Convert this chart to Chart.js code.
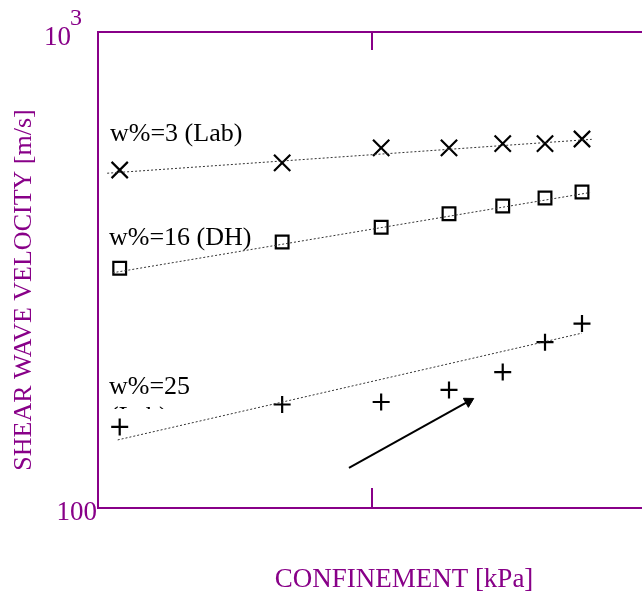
<!DOCTYPE html>
<html>
<head>
<meta charset="utf-8">
<script src="https://cdn.jsdelivr.net/npm/chart.js@4"></script>
<style>
  html, body { margin: 0; padding: 0; background: #fff; overflow: hidden; }
  #vsChart { display: block; }
</style>
</head>
<body>
<canvas id="vsChart" width="642" height="594"></canvas>
<script>
// ── Data ───────────────────────────────────────────
const confinement = [12, 47, 108, 191, 300, 428, 584];      // kPa
const vsLab3  = [513, 531, 571, 571, 583, 583, 596];        // w%=3 (Lab)
const vsDH16  = [319, 362, 389, 415, 431, 448, 461];        // w%=16 (DH)
const vsLab25 = [148, 165, 167, 177, 193, 223, 244];        // w%=25 (Lab)

// dotted trend lines (start / end)
const trendX3  = [10.8, 634];  const trendY3  = [505, 595];
const trendX16 = [11.3, 625];  const trendY16 = [312, 460];
const trendX25 = [11.8, 584];  const trendY25 = [139, 233];

// arrow (tail / head)
const arrowX = [82.4, 225];
const arrowY = [121.4, 167.5];

// visible axis range (the frame is cut just before 1000 kPa)
const xMin = 10, xMax = 967;
const yMin = 100, yMax = 1000;
const yTicks = [100, 1000];
const xMajor = [100];

const PURPLE = '#880088';
const SERIF = "'Liberation Serif', 'Times New Roman', serif";

const pts = (xs, ys) => xs.map((x, i) => ({ x: x, y: ys[i] }));

function markerSet(label, ys, style, radius) {
    return {
        label: label,
        data: pts(confinement, ys),
        showLine: false,
        pointStyle: style,
        pointRadius: radius,
        pointHoverRadius: radius,
        pointBorderColor: '#000',
        pointBackgroundColor: 'rgba(0,0,0,0)',
        pointBorderWidth: 2.2,
    };
}

function trendSet(xs, ys) {
    return {
        data: pts(xs, ys),
        showLine: true,
        borderColor: '#333',
        borderWidth: 1,
        borderDash: [2, 2],
        pointRadius: 0,
    };
}

// axes take no room of their own; the layout padding places the frame
const flatX = s => { s.height = 0; s.paddingLeft = 0; s.paddingRight = 0; };
const flatY = s => { s.width = 0; s.paddingTop = 0; s.paddingBottom = 0; };

// ── Annotations: labels, axis titles, inward ticks ─
const annotations = {
    id: 'annotations',
    afterDraw(chart) {
        const ctx = chart.ctx;
        const xs = chart.scales.x, ys = chart.scales.y;
        const area = chart.chartArea;
        ctx.save();

        // inward ticks on bottom / top
        ctx.strokeStyle = PURPLE;
        ctx.lineWidth = 2;
        xMajor.forEach(v => {
            const px = Math.round(xs.getPixelForValue(v));
            ctx.beginPath();
            ctx.moveTo(px, area.bottom); ctx.lineTo(px, area.bottom - 20);
            ctx.moveTo(px, area.top); ctx.lineTo(px, area.top + 18);
            ctx.stroke();
        });
        yTicks.forEach(v => {
            const py = ys.getPixelForValue(v);
            ctx.beginPath();
            ctx.moveTo(area.left, py); ctx.lineTo(area.left + 14, py);
            ctx.stroke();
        });

        // y tick labels
        ctx.fillStyle = PURPLE;
        ctx.textBaseline = 'alphabetic';
        ctx.font = '27px ' + SERIF;
        ctx.textAlign = 'right';
        ctx.fillText('100', area.left - 1, ys.getPixelForValue(100) + 12);
        const topY = ys.getPixelForValue(1000);
        ctx.fillText('10', area.left - 27, topY + 13);
        ctx.font = '24px ' + SERIF;
        ctx.textAlign = 'left';
        ctx.fillText('3', area.left - 28, topY - 7);

        // axis titles
        ctx.font = '27px ' + SERIF;
        ctx.textAlign = 'center';
        ctx.fillText('CONFINEMENT [kPa]', 404, 587);
        ctx.save();
        ctx.translate(31, 290);
        ctx.rotate(-Math.PI / 2);
        ctx.font = '26px ' + SERIF;
        ctx.fillText('SHEAR WAVE VELOCITY [m/s]', 0, 0);
        ctx.restore();

        // series labels
        ctx.fillStyle = '#000';
        ctx.textAlign = 'left';
        ctx.font = '26px ' + SERIF;
        ctx.fillText('w%=3 (Lab)', 110, 141);
        ctx.fillText('w%=16 (DH)', 109, 245);
        ctx.fillText('w%=25', 109, 394);
        ctx.save();
        ctx.beginPath();
        ctx.rect(100, 400, 100, 9);
        ctx.clip();
        ctx.fillText('(Lab)', 110, 424);
        ctx.restore();

        ctx.restore();
    }
};

new Chart(document.getElementById('vsChart'), {
    type: 'scatter',
    data: {
        datasets: [
            trendSet(trendX3, trendY3),
            trendSet(trendX16, trendY16),
            trendSet(trendX25, trendY25),
            markerSet('w%=3 (Lab)', vsLab3, 'crossRot', 11.5),
            markerSet('w%=16 (DH)', vsDH16, 'rect', 9),
            markerSet('w%=25 (Lab)', vsLab25, 'cross', 8.5),
            {
                data: pts(arrowX, arrowY),
                showLine: true,
                borderColor: '#000',
                borderWidth: 2,
                pointStyle: 'triangle',
                pointRadius: [0, 6],
                pointRotation: [0, 61],
                pointBackgroundColor: '#000',
                pointBorderColor: '#000',
                pointBorderWidth: 1,
            }
        ]
    },
    options: {
        responsive: false,
        animation: false,
        layout: {
            autoPadding: false,
            padding: { left: 98, top: 32, right: 0, bottom: 86 }
        },
        plugins: {
            legend: { display: false },
            tooltip: { enabled: false }
        },
        scales: {
            x: {
                type: 'logarithmic',
                min: xMin, max: xMax,
                grid: { display: false, drawTicks: false },
                ticks: { display: false },
                border: { display: true, color: PURPLE, width: 2 },
                afterFit: flatX
            },
            xTop: {
                type: 'logarithmic',
                position: 'top',
                min: xMin, max: xMax,
                grid: { display: false, drawTicks: false },
                ticks: { display: false },
                border: { display: true, color: PURPLE, width: 2 },
                afterFit: flatX
            },
            y: {
                type: 'logarithmic',
                min: yMin, max: yMax,
                grid: { display: false, drawTicks: false },
                ticks: { display: false },
                border: { display: true, color: PURPLE, width: 2 },
                afterFit: flatY
            }
        }
    },
    plugins: [annotations]
});
</script>
</body>
</html>
